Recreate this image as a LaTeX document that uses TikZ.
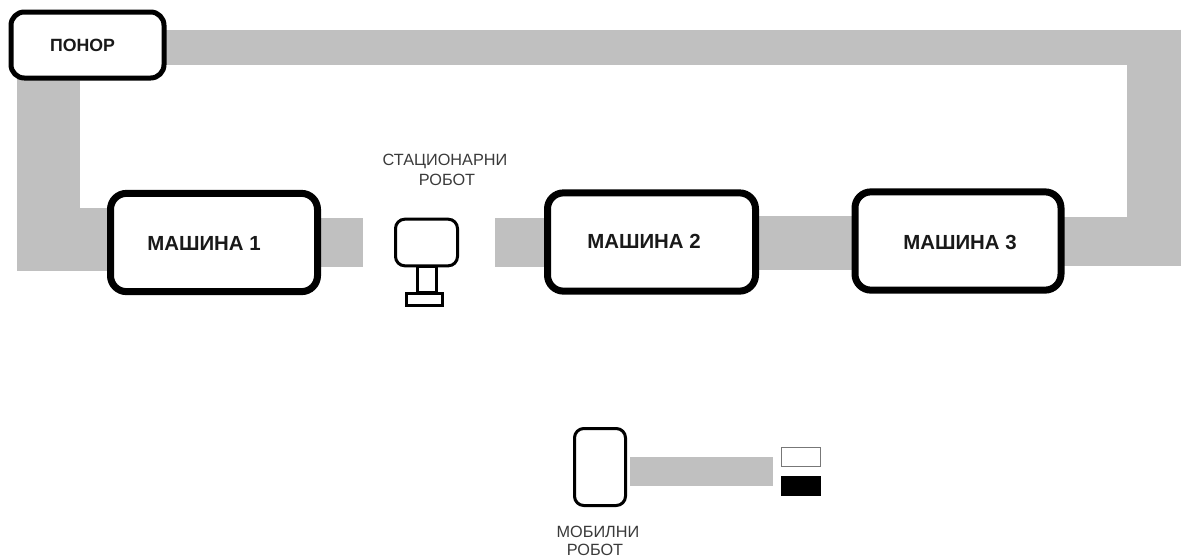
\documentclass[tikz,border=0pt]{standalone}
\usepackage{fontspec}
\setmainfont{Liberation Sans}
\pgfdeclarelayer{bands}
\pgfsetlayers{bands,main}
\definecolor{bandgray}{HTML}{C0C0C0}
\definecolor{smalltext}{HTML}{3A3A3A}
\definecolor{tokenedge}{HTML}{777777}
\tikzset{
  x=0.75pt,y=-0.75pt,
  band/.style={draw=bandgray,line cap=butt,line join=miter,line width=#1*0.75pt},
  boxbase/.style={draw=black,fill=white,inner sep=0pt,outer sep=0pt,rounded corners=#1},
  machine/.style={boxbase=12pt,line width=5.25pt,minimum width=#1*0.75pt,minimum height=73.7pt},
  sink/.style={boxbase=10pt,line width=3.75pt,minimum width=114.75pt,minimum height=49.5pt},
  thinbox/.style={boxbase=7pt,line width=2.25pt},
  bigtext/.style={font=\bfseries\fontsize{15.3}{18}\selectfont,inner sep=0pt,text=black!90},
  midtext/.style={font=\bfseries\fontsize{13.3}{16}\selectfont,inner sep=0pt,text=black!90},
  smalllabel/.style={font=\fontsize{12.2}{14}\selectfont,inner sep=0pt,text=smalltext},
  token/.style={inner sep=0pt,outer sep=0pt,minimum width=29.25pt,minimum height=14.25pt},
}
\begin{document}
\begin{tikzpicture}
\useasboundingbox (0,0) rectangle (1185,557);
% boxes
\node[sink] (ponor) at (87.5,45) {};
\node[machine=207] (m1) at (214,242.5) {};
\node[machine=208] (m2) at (651.5,242) {};
\node[machine=206] (m3) at (958,241) {};
% stationary robot
\node[thinbox,minimum width=46.5pt,minimum height=35pt] (rhead) at (426.5,242.5) {};
\node[draw=black,line width=2.25pt,inner sep=0pt,outer sep=0pt,minimum width=14.25pt,minimum height=19pt] (rstem) at (426.5,279.5) {};
\node[draw=black,fill=white,line width=2.25pt,inner sep=0pt,outer sep=0pt,minimum width=27pt,minimum height=9.25pt] (rbase) at (424.5,299.5) {};
% mobile robot
\node[thinbox,minimum width=38.25pt,minimum height=57.75pt] (mob) at (600,467) {};
\node[token,draw=tokenedge,fill=white,line width=0.9pt] (tokwhite) at (801,457) {};
\node[token,fill=black,minimum width=30pt,minimum height=15pt] (tokblack) at (801,486) {};
% free ends and corners of the bands
\coordinate (topEnd) at (1181,47.25);
\coordinate (sideTop) at (1154,29.5);
\coordinate (sideBot) at (1154,265.7);
\coordinate (m3End) at (1181,241.5);
\coordinate (leftCorner) at (48.5,239);
\coordinate (m1Free) at (362.5,242.5);
\coordinate (m2Free) at (495,242.5);
\coordinate (mobStart) at (630,471.5);
\coordinate (mobFree) at (773,471.5);
\begin{pgfonlayer}{bands}
\draw[band=35.5] (ponor.center |- topEnd) -- (topEnd);
\draw[band=54] (sideTop) -- (sideBot);
\draw[band=48.7] (m3.center |- m3End) -- (m3End);
\draw[band=63] (ponor.center -| leftCorner) -- (leftCorner) -- (m1.center |- leftCorner);
\draw[band=49] (m1.center) -- (m1Free);
\draw[band=49] (m2Free) -- (m2.center |- m2Free);
\draw[band=54] (m2.center |- 0,243) -- (m3.center |- 0,243);
\draw[band=29] (mobStart) -- (mobFree);
\end{pgfonlayer}
% texts
\node[midtext] (tponor) at (82.5,45) {ПОНОР};
\node[bigtext] (tm1) at (204,243) {МАШИНА 1};
\node[bigtext] (tm2) at (644,241) {МАШИНА 2};
\node[bigtext] (tm3) at (960,242) {МАШИНА 3};
\node[smalllabel] (ts1) at (445,161) {СТАЦИОНАРНИ};
\node[smalllabel] (ts2) at (447,180) {РОБОТ};
\node[smalllabel] (tm1l) at (598,532) {МОБИЛНИ};
\node[smalllabel] (tm2l) at (595,550) {РОБОТ};
\end{tikzpicture}
\end{document}
